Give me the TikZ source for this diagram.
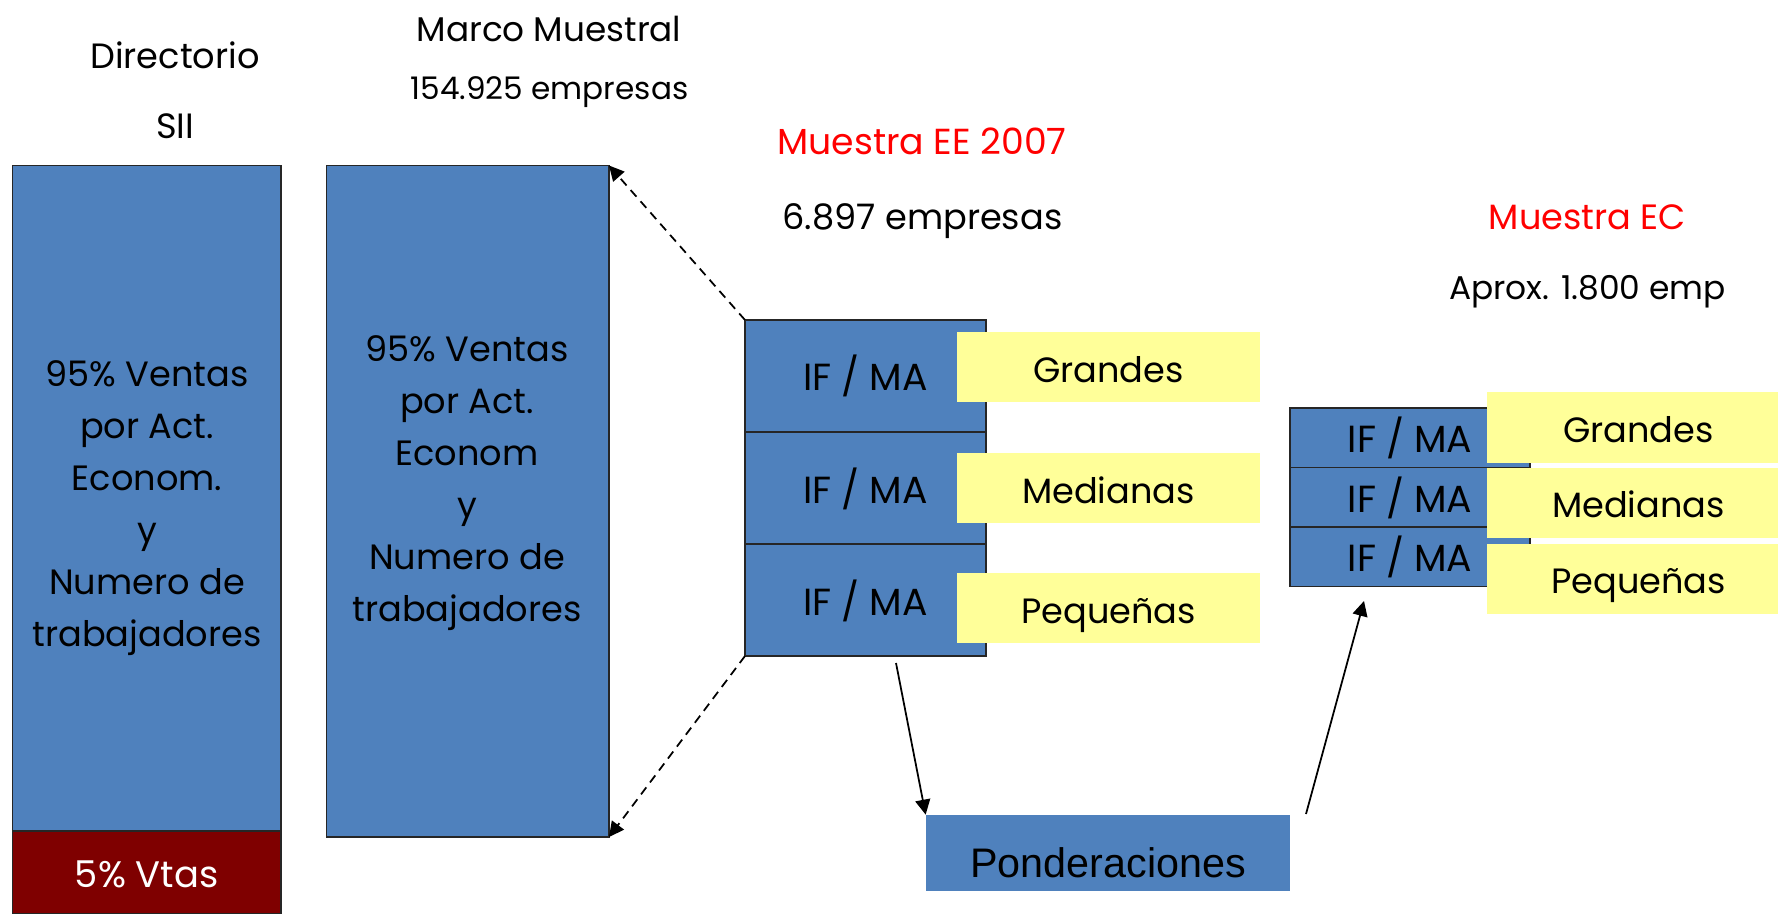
\documentclass[tikz,border=0pt]{standalone}
\usepackage{fontspec}
\setmainfont{Poppins}
\newfontfamily\arialfont{Liberation Sans}
\usetikzlibrary{positioning,arrows.meta}
\definecolor{boxblue}{HTML}{4F81BD}
\definecolor{boxred}{HTML}{7F0000}
\definecolor{labyellow}{HTML}{FFFF99}
\definecolor{titlered}{HTML}{FF0000}
\begin{document}
\begin{tikzpicture}[bigbox/.style={draw=black!85,line width=0.8pt,fill=boxblue,minimum width=#1,inner sep=0,outer sep=0},
	rowbox/.style={draw=black!85,line width=0.8pt,fill=boxblue,minimum width=4.82cm,minimum height=#1,inner sep=0,outer sep=0,
	text height=0.6cm,text depth=0cm,font=\fontsize{21.5}{24}\selectfont},
	sizebox/.style={fill=labyellow,minimum width=6.06cm,minimum height=1.40cm,inner sep=0,
	text height=0.6cm,text depth=0cm,font=\fontsize{20}{24}\selectfont},
	boxtext/.style={align=center,font=\fontsize{20}{29.6}\selectfont},
	heading/.style={anchor=base,font=\fontsize{#1}{24}\selectfont},
	link/.style={line width=1pt,-{Triangle[length=0.3cm,width=0.3cm]}}]
\useasboundingbox (0,0) rectangle (35.56,-18.28);
% directorio SII
\node[bigbox=5.37cm,minimum height=13.31cm] (dir) at (2.935,-9.965) {};
\node[bigbox=5.37cm,minimum height=1.66cm,fill=boxred,below=0pt of dir,text=white,
	text height=0.6cm,text depth=0cm,font=\fontsize{21}{24}\selectfont] (dirrest) {5\% Vtas};
\node[boxtext] (dirtxt) at (2.94,-10.16) {95\% Ventas\\por Act.\\Econom.\\y\\Numero de\\trabajadores};
\node[heading=20] (dirtit) at (3.50,-1.38) {Directorio};
\node[heading=20] (dirsub) at (3.50,-2.78) {SII};
% marco muestral
\node[bigbox=5.65cm,minimum height=13.43cm] (marco) at (9.355,-10.025) {};
\node[boxtext] (marcotxt) at (9.34,-9.66) {95\% Ventas\\por Act.\\Econom\\y\\Numero de\\trabajadores};
\node[heading=19.5] (marcotit) at (10.98,-0.84) {Marco Muestral};
\node[heading=17.7] (marcosub) at (10.99,-2.00) {154.925 empresas};
% muestra EE 2007
\node[rowbox=2.24cm] (ee1) at (17.31,-7.52) {IF / MA};
\node[rowbox=2.24cm,below=0pt of ee1] (ee2) {IF / MA};
\node[rowbox=2.24cm,below=0pt of ee2] (ee3) {IF / MA};
\node[sizebox] (eeg) at (22.17,-7.34) {Grandes};
\node[sizebox] (eem) at (22.17,-9.76) {Medianas};
\node[sizebox] (eep) at (22.17,-12.16) {Pequeñas};
\node[heading=20.6,text=titlered] (eetit) at (18.44,-3.10) {Muestra EE 2007};
\node[heading=20] (eesub) at (18.45,-4.60) {6.897 empresas};
% muestra EC
\node[rowbox=1.19cm,minimum width=4.80cm] (ec1) at (28.20,-8.755) {IF / MA};
\node[rowbox=1.19cm,minimum width=4.80cm,below=0pt of ec1] (ec2) {IF / MA};
\node[rowbox=1.19cm,minimum width=4.80cm,below=0pt of ec2] (ec3) {IF / MA};
\node[sizebox] (ecg) at (32.77,-8.55) {Grandes};
\node[sizebox] (ecm) at (32.77,-10.05) {Medianas};
\node[sizebox] (ecp) at (32.77,-11.57) {Pequeñas};
\node[heading=20,text=titlered] (ectit) at (31.75,-4.60) {Muestra EC};
\node[heading=18.7] (ecsub) at (31.75,-6.00) {Aprox. 1.800 emp};
% ponderaciones
\node[fill=boxblue,minimum width=7.28cm,minimum height=1.52cm,inner sep=0,
	text height=0.96cm,text depth=0cm,font=\arialfont\fontsize{23.5}{28}\selectfont] (pond) at (22.16,-17.06) {Ponderaciones};
\coordinate (eeout) at (17.92,-13.26);
\coordinate (pondout) at (26.12,-16.28);
\coordinate (ecin) at (27.28,-12.02);
% flechas
\draw[link,dash pattern=on 5pt off 3.5pt] (ee1.north west) -- (marco.north east);
\draw[link,dash pattern=on 5pt off 3.5pt] (ee3.south west) -- (marco.south east);
\draw[link] (eeout) -- (pond.north west);
\draw[link] (pondout) -- (ecin);
\end{tikzpicture}
\end{document}
